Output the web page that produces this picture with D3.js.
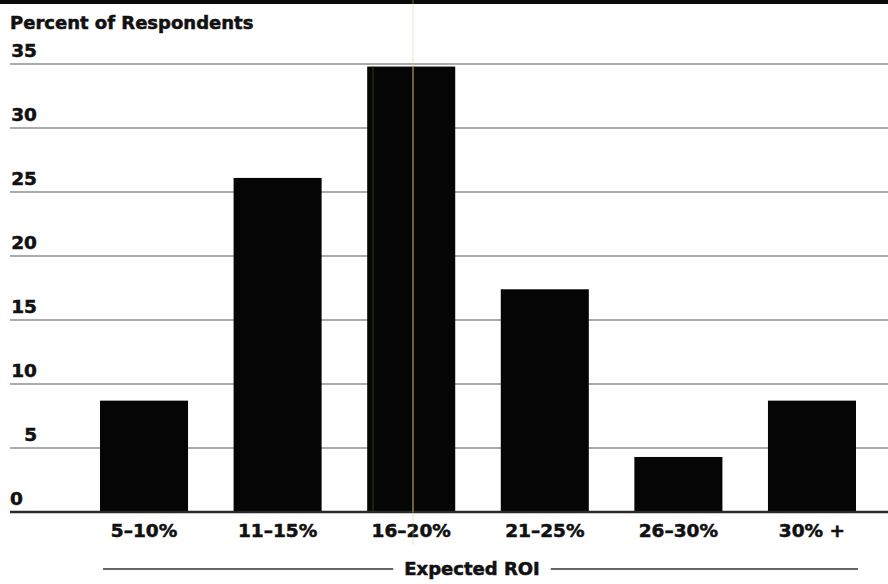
<!DOCTYPE html>
<html>
<head>
<meta charset="utf-8">
<script src="https://cdn.jsdelivr.net/npm/d3@7/dist/d3.min.js"></script>
<style>
  html, body { margin: 0; padding: 0; background: #fff; }
  svg { display: block; }
  text { font-family: "DejaVu Sans", "Noto Sans", sans-serif; font-weight: bold; fill: #111; stroke: #111; stroke-width: 0.55px; }
</style>
</head>
<body>
<svg id="chart" width="888" height="584"></svg>
<script>
// Expected ROI ranges and share of respondents (%)
const categories = ["5–10%", "11–15%", "16–20%", "21–25%", "26–30%", "30% +"];
const shares = [8.7, 26.1, 34.8, 17.4, 4.3, 8.7];
const yTicks = [0, 5, 10, 15, 20, 25, 30, 35];
const yTitle = "Percent of Respondents";
const xTitle = "Expected ROI";

const W = 888, H = 584;
const svg = d3.select("#chart");

// top rule
svg.append("rect").attr("x", 0).attr("y", 0).attr("width", W).attr("height", 4).attr("fill", "#0a0a0a");

const y = d3.scaleLinear().domain([0, 35]).range([512, 64]);
const x = d3.scaleBand().domain(categories).range([100, 856]).paddingInner(0.341).paddingOuter(0);

// gridlines
svg.append("g").selectAll("line").data(yTicks.filter(d => d > 0)).join("line")
  .attr("x1", 10).attr("x2", W)
  .attr("y1", d => y(d)).attr("y2", d => y(d))
  .attr("stroke", "#ababab").attr("stroke-width", 2);

// bars
svg.append("g").selectAll("rect").data(categories).join("rect")
  .attr("x", d => x(d))
  .attr("width", x.bandwidth())
  .attr("y", (d, i) => y(shares[i]))
  .attr("height", (d, i) => y(0) - y(shares[i]))
  .attr("fill", "#050505");

// baseline
svg.append("line").attr("x1", 10).attr("x2", W).attr("y1", y(0)).attr("y2", y(0))
  .attr("stroke", "#2a2a2a").attr("stroke-width", 2.5);

// y tick labels
svg.append("g").selectAll("text").data(yTicks).join("text")
  .attr("x", d => d === 0 ? 10 : 37)
  .attr("y", d => y(d) - 7)
  .attr("text-anchor", d => d === 0 ? "start" : "end")
  .attr("font-size", 18.5)
  .text(d => d);

// axis title
svg.append("text").attr("x", 10).attr("y", 29).attr("font-size", 18).text(yTitle);

// category labels
svg.append("g").selectAll("text").data(categories).join("text")
  .attr("x", d => x(d) + x.bandwidth() / 2)
  .attr("y", 537)
  .attr("text-anchor", "middle")
  .attr("font-size", 18.5)
  .text(d => d);

// x title with rules on both sides
const xMid = (x.range()[0] + x.range()[1]) / 2;
const xt = svg.append("text").attr("x", xMid - 6).attr("y", 575)
  .attr("text-anchor", "middle").attr("font-size", 18).text(xTitle);
const bb = xt.node().getBBox();
svg.append("line").attr("x1", 103).attr("x2", bb.x - 11).attr("y1", 569).attr("y2", 569)
  .attr("stroke", "#333").attr("stroke-width", 1.5);
svg.append("line").attr("x1", bb.x + bb.width + 11).attr("x2", 858).attr("y1", 569).attr("y2", 569)
  .attr("stroke", "#333").attr("stroke-width", 1.5);

// faint vertical streaks across the middle column
svg.append("line").attr("x1", 413).attr("x2", 413).attr("y1", 0).attr("y2", 545)
  .attr("stroke", "#d8c590").attr("stroke-width", 1).attr("opacity", 0.45);
svg.append("line").attr("x1", 413).attr("x2", 413).attr("y1", y(shares[2])).attr("y2", y(0))
  .attr("stroke", "#a08a48").attr("stroke-width", 1.2).attr("opacity", 0.9);
svg.append("line").attr("x1", 373).attr("x2", 373).attr("y1", y(shares[2])).attr("y2", y(0))
  .attr("stroke", "#2f4a22").attr("stroke-width", 1).attr("opacity", 0.8);
</script>
</body>
</html>
